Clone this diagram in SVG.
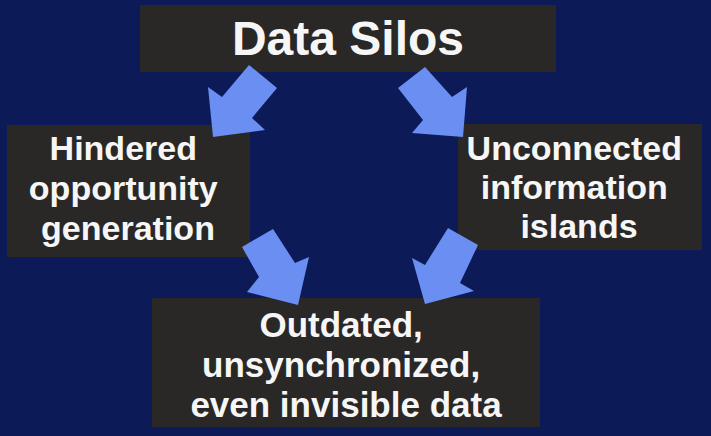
<svg xmlns="http://www.w3.org/2000/svg" width="711" height="436" viewBox="0 0 711 436">
  <style>
    .box { fill: #2a2826; }
    .label { fill: #f6f6f6; font-family: "Liberation Sans", Arial, Helvetica, sans-serif; font-weight: bold; text-anchor: middle; }
    .arrow { fill: #6b8ef2; }
  </style>
  <rect width="711" height="436" fill="#0c1a57"/>

  <g id="data-silos">
    <rect class="box" x="140" y="5" width="416" height="67"/>
    <text class="label" x="348" y="55" font-size="48">Data Silos</text>
  </g>

  <g id="hindered-opportunity">
    <rect class="box" x="7" y="125" width="243" height="132"/>
    <text class="label" font-size="34">
      <tspan x="128" y="160">Hindered</tspan>
      <tspan x="128" y="200">opportunity</tspan>
      <tspan x="128" y="240">generation</tspan>
    </text>
  </g>

  <g id="unconnected-islands">
    <rect class="box" x="458" y="124" width="244" height="126"/>
    <text class="label" font-size="34">
      <tspan x="579" y="160">Unconnected</tspan>
      <tspan x="579" y="199">information</tspan>
      <tspan x="579" y="238">islands</tspan>
    </text>
  </g>

  <g id="outdated-data">
    <rect class="box" x="152" y="298" width="388" height="129"/>
    <text class="label" font-size="35">
      <tspan x="346" y="337">Outdated,</tspan>
      <tspan x="346" y="377">unsynchronized,</tspan>
      <tspan x="346" y="417">even invisible data</tspan>
    </text>
  </g>

  <g id="connectors">
    <polygon class="arrow" points="249,65 277,88 252,118 265,130 213,137 208,87 222,97"/>
    <polygon class="arrow" points="398,88 425,67 452,97 467,87 463,137 412,133 423,120"/>
    <polygon class="arrow" points="242,247 273,229 295,263 309,257 298,305 247,292 259,277"/>
    <polygon class="arrow" points="448,228 478,245 460,283 474,291 425,304 412,258 425,265"/>
  </g>
</svg>
